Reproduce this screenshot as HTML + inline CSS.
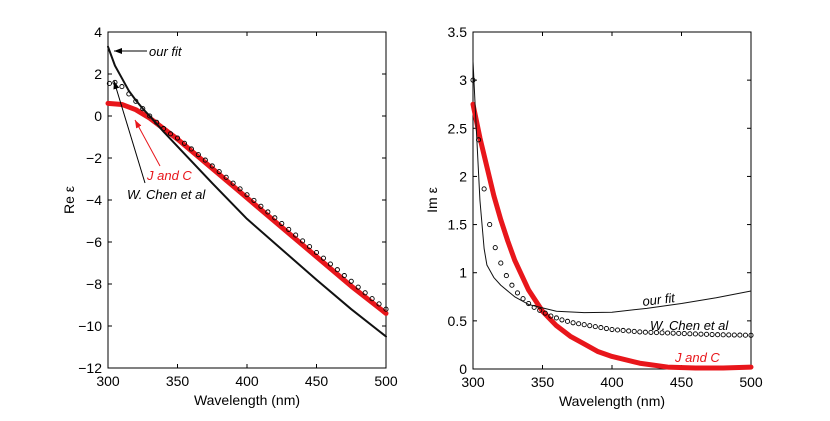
<!DOCTYPE html>
<html><head><meta charset="utf-8"><style>
body{margin:0;background:#fff;}
svg text{font-family:"Liberation Sans",sans-serif;}
</style></head><body>
<svg id="c" width="830" height="416" xmlns="http://www.w3.org/2000/svg">
</svg>
<script>
// Left panel (Re eps)
const reFitX=[300,305,310,315,320,325,330,340,350,375,400,425,450,475,500];
const reFitY=[3.3,2.4,1.8,1.2,0.75,0.35,0.0,-0.75,-1.45,-3.2,-4.9,-6.35,-7.8,-9.2,-10.5];
const reJCX=[300,310,320,330,340,350,375,400,425,450,475,500];
const reJCY=[0.6,0.55,0.3,-0.1,-0.6,-1.1,-2.5,-3.9,-5.3,-6.7,-8.1,-9.4];
const reChenX=[301,305,310,315,320,325,330,335,340,345,350,355,360,365,370,375,380,385,390,395,400,405,410,415,420,425,430,435,440,445,450,455,460,465,470,475,480,485,490,495,500];
const reChenY=[1.55,1.6,1.4,1.05,0.7,0.35,0.0,-0.3,-0.6,-0.85,-1.05,-1.3,-1.57,-1.84,-2.1,-2.38,-2.65,-2.92,-3.2,-3.47,-3.75,-4.02,-4.3,-4.57,-4.85,-5.12,-5.4,-5.67,-5.95,-6.22,-6.5,-6.77,-7.05,-7.32,-7.6,-7.87,-8.15,-8.42,-8.7,-8.95,-9.2];
const leftYTicks=[4,2,0,-2,-4,-6,-8,-10,-12];
const xTicks=[300,350,400,450,500];
// Right panel (Im eps)
const imFitX=[300,302,305,308,310,315,320,330,340,360,380,400,425,450,475,500];
const imFitY=[3.2,2.6,1.75,1.25,1.08,0.95,0.87,0.75,0.67,0.6,0.585,0.59,0.63,0.68,0.74,0.81];
const imJCX=[300,305,310,315,320,325,330,340,350,360,370,380,390,400,420,440,460,480,500];
const imJCY=[2.75,2.4,2.1,1.8,1.55,1.33,1.13,0.82,0.6,0.45,0.34,0.26,0.18,0.13,0.06,0.02,0.01,0.01,0.02];
const imChenX=[300,304,308,312,316,320,324,328,332,336,340,344,348,352,356,360,364,368,372,376,380,384,388,392,396,400,404,408,412,416,420,424,428,432,436,440,444,448,452,456,460,464,468,472,476,480,484,488,492,496,500];
const imChenY=[3.0,2.38,1.87,1.5,1.26,1.1,0.97,0.87,0.79,0.73,0.68,0.64,0.61,0.58,0.55,0.53,0.51,0.495,0.48,0.47,0.46,0.45,0.44,0.43,0.42,0.41,0.405,0.4,0.395,0.39,0.385,0.382,0.38,0.378,0.376,0.374,0.372,0.37,0.368,0.366,0.364,0.362,0.36,0.358,0.356,0.355,0.354,0.353,0.352,0.351,0.35];
const rightYTicks=[0,0.5,1,1.5,2,2.5,3,3.5];

const svg=document.getElementById('c');
const NS='http://www.w3.org/2000/svg';
function mk(tag,attrs,parent){const e=document.createElementNS(NS,tag);for(const k in attrs)e.setAttribute(k,attrs[k]);(parent||svg).appendChild(e);return e;}

function panel(px0,px1,py0,py1,ymin,ymax,yticks,name){
  const g=mk('g',{});
  
  
  const sx=v=>px0+(v-300)/200*(px1-px0);
  const sy=v=>py1-(v-ymin)/(ymax-ymin)*(py1-py0);
  const box=mk('rect',{x:px0,y:py0,width:px1-px0,height:py1-py0,fill:'none',stroke:'#000','stroke-width':1},g);
  
  
  xTicks.forEach(t=>{
    const x=sx(t);
    mk('line',{x1:x,y1:py1,x2:x,y2:py1-4,stroke:'#000'},g);
    mk('line',{x1:x,y1:py0,x2:x,y2:py0+4,stroke:'#000'},g);
    const tx=mk('text',{x:x,y:py1+18,'font-size':14,'text-anchor':'middle'},g);
    tx.textContent=t;
    
    
  });
  yticks.forEach(t=>{
    const y=sy(t);
    mk('line',{x1:px0,y1:y,x2:px0+4,y2:y,stroke:'#000'},g);
    mk('line',{x1:px1,y1:y,x2:px1-4,y2:y,stroke:'#000'},g);
    const ty=mk('text',{x:px0-6,y:y+5,'font-size':14,'text-anchor':'end'},g);
    ty.textContent=String(t).replace('-','\u2212');
    
    
  });
  const xl=mk('text',{x:(px0+px1)/2,y:py1+37,'font-size':14,'text-anchor':'middle'},g);
  xl.textContent='Wavelength (nm)';
  
  
  return {g,sx,sy};
}
function line(p,xs,ys,color,w,name){
  const pts=xs.map((x,i)=>p.sx(x)+','+p.sy(ys[i])).join(' ');
  const e=mk('polyline',{points:pts,fill:'none',stroke:color,'stroke-width':w,'stroke-linejoin':'round','stroke-linecap':'round'},p.g);
  
  
}
function circles(p,xs,ys,color,name){
  const g=mk('g',{},p.g);
  
  
  xs.forEach((x,i)=>{mk('circle',{cx:p.sx(x),cy:p.sy(ys[i]),r:2.1,fill:'none',stroke:color,'stroke-width':0.9},g);});
}

const L=panel(108,386,32,368,-12,4,leftYTicks,'left-panel-re-eps');
line(L,reJCX,reJCY,'#e8161b',5,'series-j-and-c-re');
circles(L,reChenX,reChenY,'#000','series-w-chen-re');
line(L,reFitX,reFitY,'#111',2,'series-our-fit-re');

const R=panel(473,751,32,369,0,3.5,rightYTicks,'right-panel-im-eps');
line(R,imJCX,imJCY,'#e8161b',5,'series-j-and-c-im');
circles(R,imChenX,imChenY,'#000','series-w-chen-im');
line(R,imFitX,imFitY,'#111',1,'series-our-fit-im');
</script>
<svg width="830" height="416" style="position:absolute;left:0;top:0" xmlns="http://www.w3.org/2000/svg">
<defs>
<marker id="ab2" markerWidth="8" markerHeight="6" refX="8" refY="3" orient="auto"><path d="M0,0 L8,3 L0,6 z" fill="#000"/></marker>
<marker id="ar2" markerWidth="8" markerHeight="6" refX="8" refY="3" orient="auto"><path d="M0,0 L8,3 L0,6 z" fill="#e8161b"/></marker>
</defs>
<text x="74" y="200" font-size="14" font-family="Liberation Sans, sans-serif" text-anchor="middle" transform="rotate(-90 74 200)">Re ε</text>
<text x="437" y="200" font-size="14" font-family="Liberation Sans, sans-serif" text-anchor="middle" transform="rotate(-90 437 200)">Im ε</text>
<line x1="147" y1="51" x2="114" y2="51" stroke="#000" stroke-width="1" marker-end="url(#ab2)"/>
<text x="149" y="56" font-size="13" font-style="italic" font-family="Liberation Sans, sans-serif">our fit</text>
<line x1="145" y1="183" x2="114" y2="81" stroke="#000" stroke-width="1" marker-end="url(#ab2)"/>
<line x1="160" y1="166" x2="135" y2="120" stroke="#e8161b" stroke-width="1" marker-end="url(#ar2)"/>
<text x="147" y="180" font-size="13" font-style="italic" fill="#e8161b" font-family="Liberation Sans, sans-serif">J and C</text>
<text x="127" y="199" font-size="13" font-style="italic" font-family="Liberation Sans, sans-serif">W. Chen et al</text>
<text x="643" y="306" font-size="13" font-style="italic" font-family="Liberation Sans, sans-serif" transform="rotate(-7 643 306)">our fit</text>
<text x="650" y="330" font-size="13" font-style="italic" font-family="Liberation Sans, sans-serif">W. Chen et al</text>
<text x="675" y="362" font-size="13" font-style="italic" fill="#e8161b" font-family="Liberation Sans, sans-serif">J and C</text>
</svg>
</body></html>
